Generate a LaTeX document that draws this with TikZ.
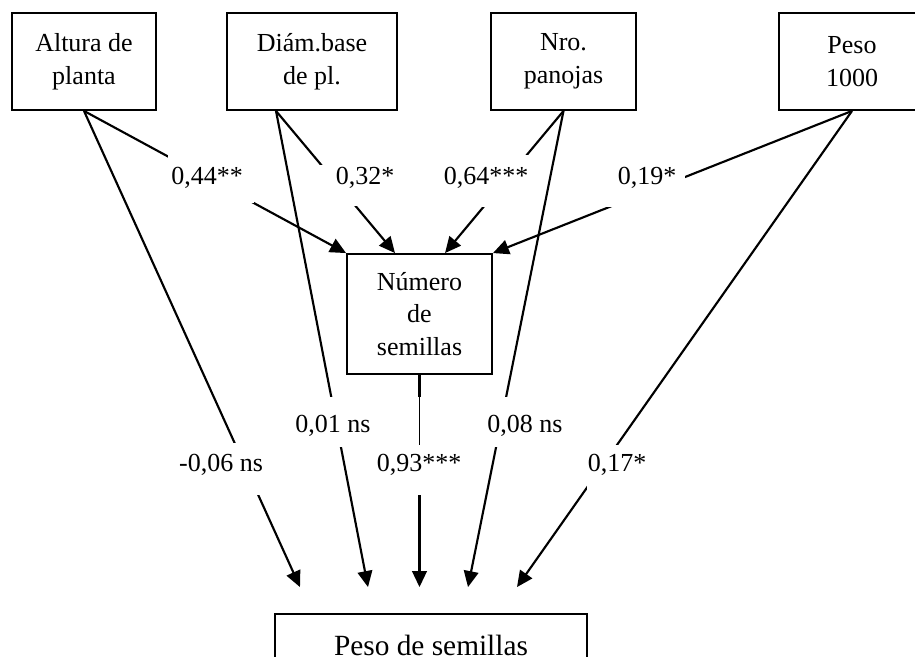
\documentclass[tikz,border=0pt]{standalone}
\usepackage{fontspec}
\setmainfont{Liberation Serif}
\usetikzlibrary{arrows.meta,calc}
\begin{document}
\begin{tikzpicture}[x=0.75pt,y=-0.75pt,
  box/.style={draw, line width=1.4pt, align=center, inner sep=0pt,
    font=\fontsize{19.5}{24.4}\selectfont},
  conn/.style={line width=1.6pt, -{Triangle[length=12pt,width=11pt]}},
  gapbox/.style n args={2}{fill=white, draw=none, inner sep=0pt,
    minimum width=#1*0.75pt, minimum height=#2*0.75pt},
  lbl/.style={anchor=base, inner sep=0pt, font=\fontsize{19.5}{24.4}\selectfont}]
\useasboundingbox (0,0) rectangle (915,657);
\clip (0,0) rectangle (915,657);

% boxes
\node[box, minimum width=108pt, minimum height=72.75pt] (A) at (84,61.5) {Altura de\\planta};
\node[box, minimum width=127.5pt, minimum height=72.75pt] (D) at (312,61.5) {Diám.base\\de pl.};
\node[box, minimum width=108.75pt, minimum height=72.75pt] (Nr) at (563.5,61.5) {Nro.\\panojas};
\node[box, minimum width=109.5pt, minimum height=72.75pt] (P1) at (852,61.5) {Peso\\1000};
\node[box, minimum width=108.75pt, minimum height=90pt] (N) at (419.5,314) {Número\\de\\semillas};
\node[box, minimum width=234pt, minimum height=47.25pt,
  font=\fontsize{22}{26}\selectfont] (PS) at (431,645.5) {Peso de semillas};

% connector ends
\coordinate (Ds) at ($(D.south)+(-36,0)$);
\coordinate (Nb) at ($(N.north)+(-24.5,0)$);
\coordinate (Nc) at ($(N.north)+(25.5,0)$);
\coordinate (t1) at ($(PS.north)+(-131,-26)$);
\coordinate (t2) at ($(PS.north)+(-63,-26)$);
\coordinate (t3) at ($(PS.north)+(-11.5,-26)$);
\coordinate (t4) at ($(PS.north)+(37,-26)$);
\coordinate (t5) at ($(PS.north)+(86,-26)$);

% connectors
\draw[conn] (A.south) -- (N.north west);
\draw[conn] (A.south) -- (t1);
\draw[conn] (Ds) -- (Nb);
\draw[conn] (Ds) -- (t2);
\draw[conn] (Nr.south) -- (Nc);
\draw[conn] (Nr.south) -- (t4);
\draw[conn] (P1.south) -- (N.north east);
\draw[conn] (P1.south) -- (t5);
\draw[conn] (N.south) -- (t3);

% white label backgrounds
\node[gapbox={86}{48}] (g44) at (211,179) {};
\node[gapbox={80}{41}] (g32) at (358,185.5) {};
\node[gapbox={91}{52}] (g64) at (485.5,181) {};
\node[gapbox={80}{55}] (g19) at (645,179.5) {};
\node[gapbox={85}{50}] (g01) at (332.5,422) {};
\node[gapbox={84}{50}] (g08) at (525,422) {};
\node[gapbox={91}{52}] (g06) at (220.5,469) {};
\node[gapbox={86}{50}] (g93) at (419,470) {};
\node[gapbox={65}{50}] (g17) at (619.5,470) {};
\node[gapbox={8}{48}] (gthin) at (419.5,421) {};
\draw[line width=0.75pt] (gthin.north) -- (gthin.south);

% labels
\node[lbl] (l44) at (207,184) {0,44**};
\node[lbl] (l32) at (365,184) {0,32*};
\node[lbl] (l64) at (486,184) {0,64***};
\node[lbl] (l19) at (647,184) {0,19*};
\node[lbl] (l01) at (333,432) {0,01 ns};
\node[lbl] (l08) at (525,432) {0,08 ns};
\node[lbl] (l06) at (221,471) {-0,06 ns};
\node[lbl] (l93) at (419,471) {0,93***};
\node[lbl] (l17) at (617,471) {0,17*};
\end{tikzpicture}
\end{document}
